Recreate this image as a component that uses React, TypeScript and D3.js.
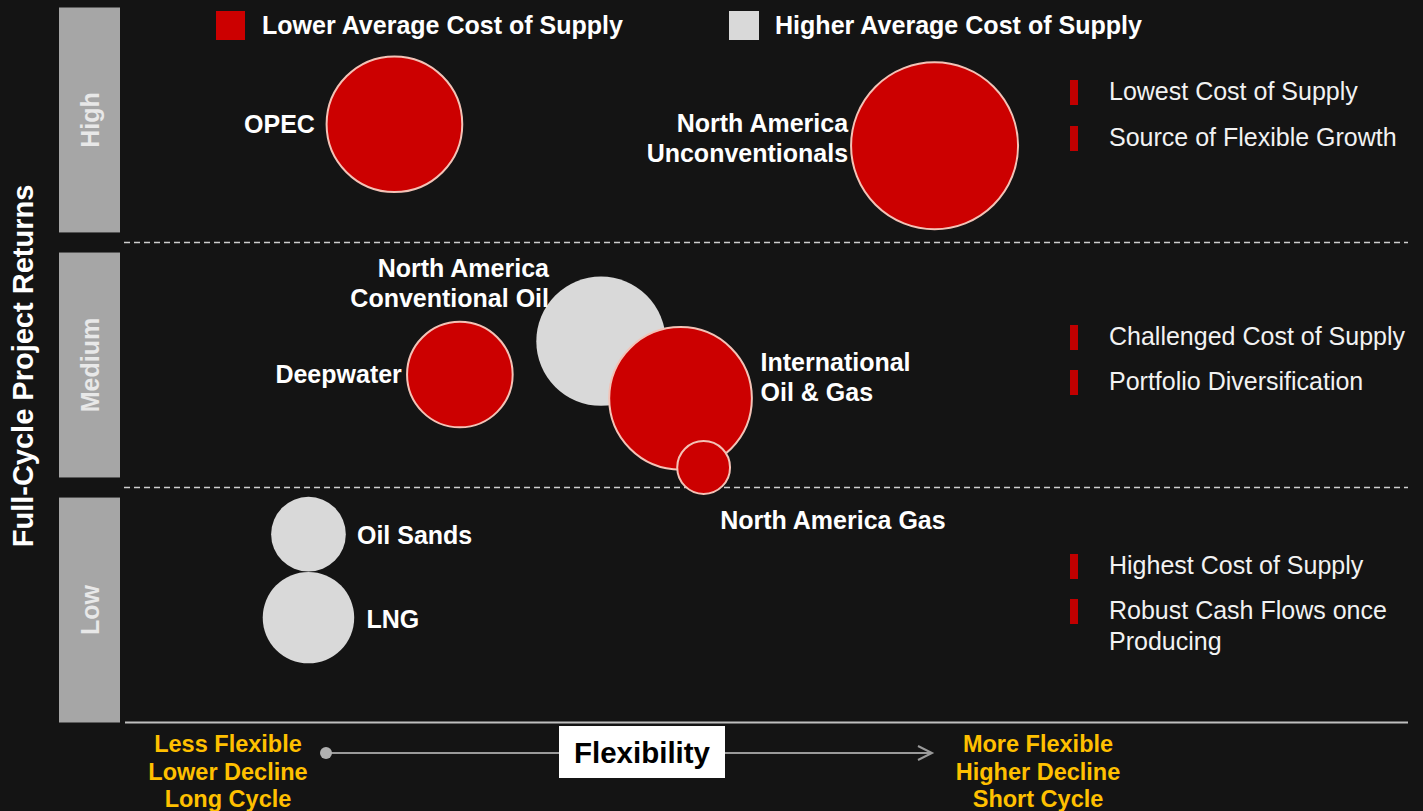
import React from "react";
import * as d3 from "d3";

// ---------- data ----------
const bandLabels = ["High", "Medium", "Low"];
const bubbleNames = [
  "North America Conventional Oil",
  "OPEC",
  "North America Unconventionals",
  "Deepwater",
  "International Oil & Gas",
  "North America Gas",
  "Oil Sands",
  "LNG",
];
const flexibility = [3.71, 2.1, 6.31, 2.61, 4.33, 4.51, 1.43, 1.43];
const returns = [1.6, 2.51, 2.42, 1.46, 1.36, 1.07, 0.79, 0.44];
const sizes = [60, 66, 100, 40, 73, 10, 20, 30];
const costGroup = ["higher", "lower", "lower", "lower", "lower", "lower", "higher", "higher"];
const bubbleLabelLines = [
  ["North America", "Conventional Oil"],
  ["OPEC"],
  ["North America", "Unconventionals"],
  ["Deepwater"],
  ["International", "Oil & Gas"],
  ["North America Gas"],
  ["Oil Sands"],
  ["LNG"],
];
const legendLabels = ["Lower Average Cost of Supply", "Higher Average Cost of Supply"];
const sideNotes = [
  ["Lowest Cost of Supply", "Source of Flexible Growth"],
  ["Challenged Cost of Supply", "Portfolio Diversification"],
  ["Highest Cost of Supply", "Robust Cash Flows once|Producing"],
];
const leftAxisNotes = ["Less Flexible", "Lower Decline", "Long Cycle"];
const rightAxisNotes = ["More Flexible", "Higher Decline", "Short Cycle"];
const yTitle = "Full-Cycle Project Returns";
const xTitle = "Flexibility";

// ---------- layout / style ----------
const W = 1423;
const H = 811;
const BG = "#141414";
const RED = "#cc0000";
const GREY = "#d9d9d9";
const FONT = "'Liberation Sans', Arial, sans-serif";

// label placement relative to bubble centre (px)
const labelLayout = [
  { anchor: "end", dx: -52, dy: -64 },
  { anchor: "end", dx: -79.5, dy: 8.5 },
  { anchor: "end", dx: -86.5, dy: -14 },
  { anchor: "end", dx: -58, dy: 8 },
  { anchor: "start", dx: 80, dy: -27.5 },
  { anchor: "start", dx: 16.5, dy: 62 },
  { anchor: "start", dx: 48.5, dy: 9.5 },
  { anchor: "start", dx: 58, dy: 10 },
];
const noteBaselines = [
  [100, 146],
  [345, 390],
  [574, 619],
];

export default function App() {
  const x = d3.scaleLinear().domain([0, 10]).range([125, 1408]);
  const y = d3.scaleLinear().domain([0, 3]).range([722.5, 7.5]);
  const r = d3.scaleSqrt().domain([0, 100]).range([0, 83.5]);
  const band = d3
    .scaleBand<string>()
    .domain(bandLabels)
    .range([7.5, 722.5])
    .paddingInner(0.082)
    .paddingOuter(0);

  const gap = band.step() - band.bandwidth();
  const dividers = bandLabels.slice(0, -1).map((b) => (band(b) as number) + band.bandwidth() + gap / 2);

  const bubbles = bubbleNames.map((name, i) => ({
    name,
    cx: x(flexibility[i]),
    cy: y(returns[i]),
    r: r(sizes[i]),
    group: costGroup[i],
    lines: bubbleLabelLines[i],
    layout: labelLayout[i],
  }));

  const arrowY = 753;
  const arrowStart = 326;
  const arrowEnd = 932;

  return (
    <svg
      width={W}
      height={H}
      style={{ position: "absolute", left: 0, top: 0, display: "block" }}
      fontFamily={FONT}
    >
      <rect x={0} y={0} width={W} height={H} fill={BG} />

      {/* y title */}
      <text
        transform={`translate(23,366) rotate(-90)`}
        textAnchor="middle"
        dominantBaseline="central"
        fontSize={29}
        fontWeight="bold"
        fill="#ffffff"
      >
        {yTitle}
      </text>

      {/* band bars */}
      {bandLabels.map((b) => {
        const top = band(b) as number;
        const cy = top + band.bandwidth() / 2;
        return (
          <g key={b}>
            <rect x={59} y={top} width={61} height={band.bandwidth()} fill="#a6a6a6" />
            <text
              transform={`translate(90,${cy}) rotate(-90)`}
              textAnchor="middle"
              dominantBaseline="central"
              fontSize={25}
              fontWeight="bold"
              fill="#e8e8e8"
            >
              {b}
            </text>
          </g>
        );
      })}

      {/* dividers */}
      {dividers.map((d, i) => (
        <line
          key={i}
          x1={124}
          x2={1408}
          y1={d}
          y2={d}
          stroke="#cfcfcf"
          strokeWidth={1.3}
          strokeDasharray="6 4"
        />
      ))}
      <line x1={125} x2={1408} y1={722.5} y2={722.5} stroke="#bfbfbf" strokeWidth={2} />

      {/* legend */}
      <rect x={216} y={11} width={29} height={29} fill={RED} />
      <text x={262} y={34} fontSize={25} fontWeight="bold" fill="#ffffff" textLength={361} lengthAdjust="spacingAndGlyphs">
        {legendLabels[0]}
      </text>
      <rect x={729} y={11} width={30} height={29} fill={GREY} />
      <text x={775} y={34} fontSize={25} fontWeight="bold" fill="#ffffff" textLength={367} lengthAdjust="spacingAndGlyphs">
        {legendLabels[1]}
      </text>

      {/* bubbles */}
      {bubbles.map((b) => (
        <circle
          key={b.name}
          cx={b.cx}
          cy={b.cy}
          r={b.r}
          fill={b.group === "lower" ? RED : GREY}
          stroke={b.group === "lower" ? "#f3c2b6" : "none"}
          strokeWidth={2}
        />
      ))}
      {bubbles.map((b) => (
        <text
          key={b.name + "-l"}
          x={b.cx + b.layout.dx}
          y={b.cy + b.layout.dy}
          textAnchor={b.layout.anchor as any}
          fontSize={25}
          fontWeight="bold"
          fill="#ffffff"
        >
          {b.lines.map((ln, j) => (
            <tspan key={j} x={b.cx + b.layout.dx} dy={j === 0 ? 0 : 30}>
              {ln}
            </tspan>
          ))}
        </text>
      ))}

      {/* side notes */}
      {sideNotes.map((group, gi) =>
        group.map((note, ni) => {
          const base = noteBaselines[gi][ni];
          const parts = note.split("|");
          return (
            <g key={`${gi}-${ni}`}>
              <rect x={1070} y={base - 20} width={8} height={25} fill="#c00000" />
              <text x={1109} y={base} fontSize={25} fill="#f2f2f2">
                {parts.map((p, k) => (
                  <tspan key={k} x={1109} dy={k === 0 ? 0 : 31}>
                    {p}
                  </tspan>
                ))}
              </text>
            </g>
          );
        })
      )}

      {/* flexibility axis */}
      <line x1={arrowStart} x2={arrowEnd} y1={arrowY} y2={arrowY} stroke="#9a9a9a" strokeWidth={2} />
      <path
        d={`M${arrowEnd - 14},${arrowY - 7} L${arrowEnd},${arrowY} L${arrowEnd - 14},${arrowY + 7}`}
        fill="none"
        stroke="#9a9a9a"
        strokeWidth={2}
      />
      <circle cx={arrowStart} cy={arrowY} r={6} fill="#b0b0b0" />
      <rect x={559} y={726} width={166} height={52} fill="#ffffff" />
      <text x={642} y={752} textAnchor="middle" dominantBaseline="central" fontSize={29.5} fontWeight="bold" fill="#000000">
        {xTitle}
      </text>
      {leftAxisNotes.map((t, i) => (
        <text key={t} x={228} y={752 + i * 27.5} textAnchor="middle" fontSize={23.5} fontWeight="bold" fill="#ffc000">
          {t}
        </text>
      ))}
      {rightAxisNotes.map((t, i) => (
        <text key={t} x={1038} y={752 + i * 27.5} textAnchor="middle" fontSize={23.5} fontWeight="bold" fill="#ffc000">
          {t}
        </text>
      ))}
    </svg>
  );
}
